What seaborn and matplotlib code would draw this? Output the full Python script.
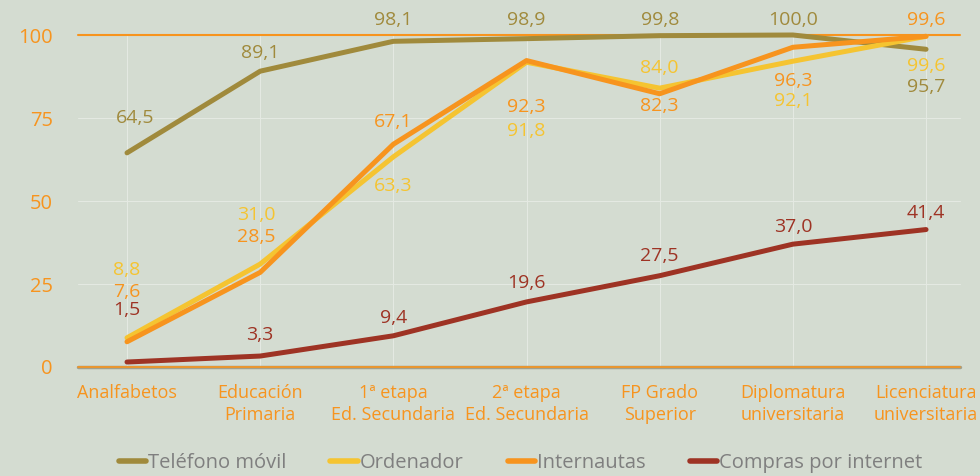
import matplotlib
matplotlib.use("Agg")
import matplotlib.pyplot as plt
import seaborn as sns
import pandas as pd
from matplotlib.lines import Line2D

categories = ["Analfabetos", "Educación\nPrimaria", "1ª etapa\nEd. Secundaria",
              "2ª etapa\nEd. Secundaria", "FP Grado\nSuperior",
              "Diplomatura\nuniversitaria", "Licenciatura\nuniversitaria"]
telefono = [64.5, 89.1, 98.1, 98.9, 99.8, 100.0, 95.7]
ordenador = [8.8, 31.0, 63.3, 91.8, 84.0, 92.1, 99.6]
internautas = [7.6, 28.5, 67.1, 92.3, 82.3, 96.3, 99.6]
compras = [1.5, 3.3, 9.4, 19.6, 27.5, 37.0, 41.4]
series_names = ["Teléfono móvil", "Ordenador", "Internautas", "Compras por internet"]
yticks = [0, 25, 50, 75, 100]

colors = {"Teléfono móvil": "#A08A3C", "Ordenador": "#F5C431",
          "Internautas": "#F7941E", "Compras por internet": "#9E3324"}

# label offsets in pixels (dx, dy)
offsets = {
    "Teléfono móvil": [(8, 35), (0, 18), (0, 21), (0, 19), (0, 16), (0, 15), (0, -38)],
    "Ordenador": [(0, 68), (-4, 49), (0, -29), (0, -69), (0, 20), (0, -40), (0, -30)],
    "Internautas": [(0, 50), (-4, 35), (0, 22), (0, -46), (0, -12), (0, -34), (0, 16)],
    "Compras por internet": [(0, 52), (0, 21), (0, 18), (0, 19), (0, 20), (0, 17), (0, 17)],
}

values = [telefono, ordenador, internautas, compras]
rows = []
for name, vals in zip(series_names, values):
    for i, v in enumerate(vals):
        rows.append({"x": i, "valor": v, "serie": name})
df = pd.DataFrame(rows)

sns.set_style("white")
plt.rcParams["font.family"] = ["Open Sans", "DejaVu Sans"]
bg = "#D4DCD1"
fig = plt.figure(figsize=(9.8, 4.76), dpi=100, facecolor=bg)
ax = fig.add_axes([78/980, 1-367/476, (960-78)/980, (367-35)/476])
ax.set_facecolor(bg)

# grid
for y in [25, 50, 75]:
    ax.axhline(y, color="#E4E9E2", lw=0.8, zorder=0)
for i in range(len(categories)):
    ax.axvline(i, color="#E4E9E2", lw=0.8, zorder=0)
ax.axhline(100, color="#F7941E", lw=1.5, zorder=1, clip_on=False)
ax.axhline(0, color="#A3A08A", lw=2.5, zorder=1, clip_on=False)
ax.axhline(0, color="#F7941E", lw=1.2, zorder=1, clip_on=False)

sns.lineplot(data=df, x="x", y="valor", hue="serie", hue_order=series_names,
             palette=colors, lw=3.6, ax=ax, legend=False, sort=False, zorder=3)
for line in ax.lines:
    line.set_clip_on(False)

for name, vals in zip(series_names, values):
    for i, v in enumerate(vals):
        dx, dy = offsets[name][i]
        ax.annotate(f"{v:.1f}".replace(".", ","), xy=(i, v), xytext=(dx, dy),
                    textcoords="offset pixels", ha="center", va="center",
                    color=colors[name], fontsize=14, annotation_clip=False, zorder=5)

ax.set_xlim(-0.368, 6.255)
ax.set_ylim(0, 100)
ax.set_xticks(range(len(categories)))
ax.set_xticklabels(categories, color="#F7941E", fontsize=13, linespacing=1.3)
ax.set_yticks(yticks)
ax.set_yticklabels([str(t) for t in yticks], color="#F7941E", fontsize=14.5)
ax.tick_params(axis="y", length=0, pad=18)
ax.tick_params(axis="x", length=0, pad=12)
ax.set_xlabel("")
ax.set_ylabel("")
for s in ax.spines.values():
    s.set_visible(False)

handles = [Line2D([0], [0], color=colors[n], lw=4) for n in series_names]
leg = fig.legend(handles, series_names, loc="center", bbox_to_anchor=(0.531, 1-463/476),
                 ncol=4, frameon=False, fontsize=14.5, handlelength=1.35,
                 handletextpad=0.1, columnspacing=2.2)
for t in leg.get_texts():
    t.set_color("#7F7F7F")

fig.savefig("out.png", dpi=100, facecolor=bg)
